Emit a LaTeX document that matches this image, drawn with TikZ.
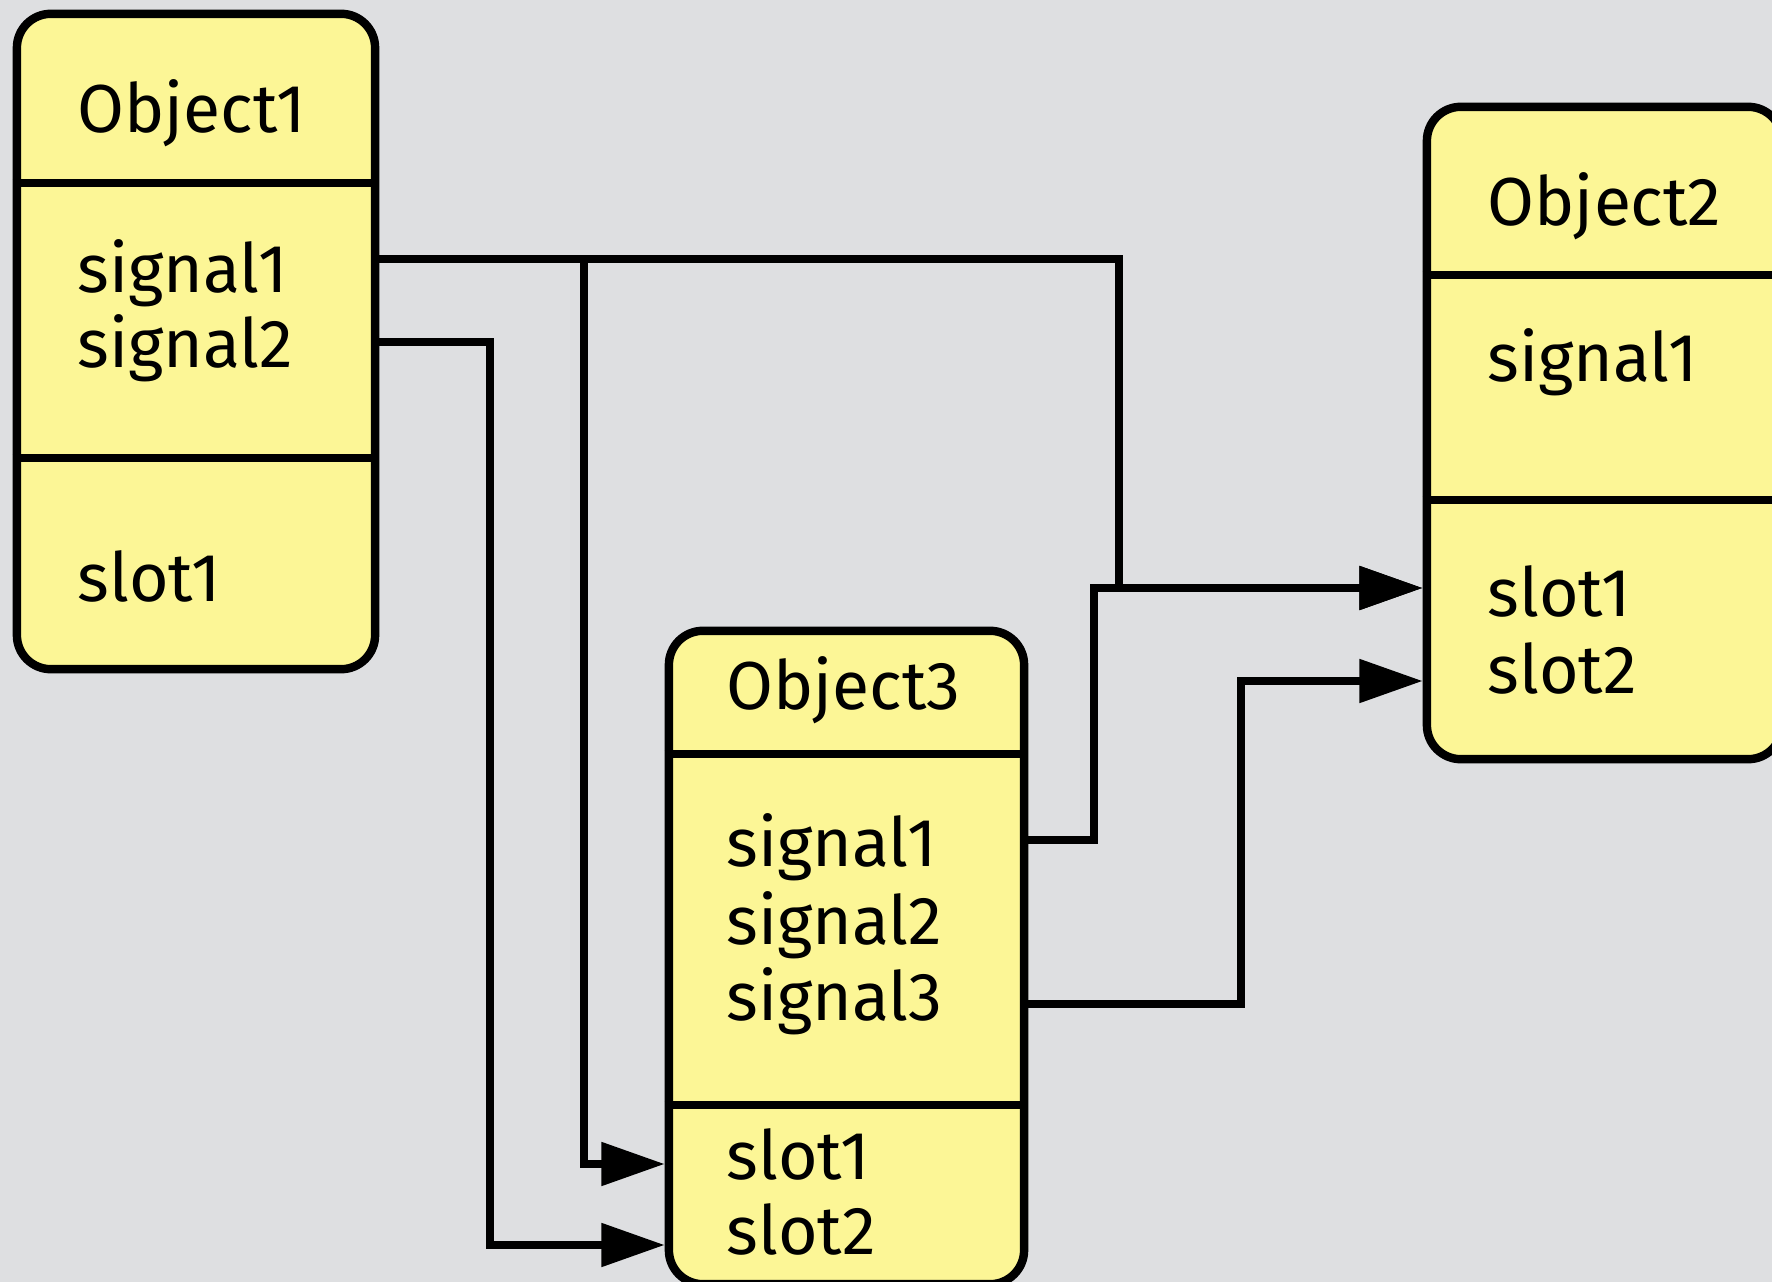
\documentclass[tikz,border=0pt]{standalone}
\usepackage{fontspec}
\setmainfont{Fira Sans}
\usetikzlibrary{arrows.meta}
\definecolor{bgcol}{RGB}{222,223,225}
\definecolor{boxfill}{RGB}{252,246,150}
\tikzset{
  objbox/.style={draw=black, fill=boxfill, line width=2.4pt, rounded corners=0.34cm, rectangle, inner sep=0pt},
  divider/.style={draw=black, line width=2.4pt},
  lbl/.style={anchor=base west, inner sep=0pt, font=\fontsize{19.3}{21.3}\selectfont},
  conn/.style={draw=black, line width=2.2pt, -{Triangle[length=18pt,width=12pt]}}
}
\begin{document}
\begin{tikzpicture}[x=0.01cm,y=-0.01cm]
\useasboundingbox (0,0) rectangle (1772,1282);
\fill[bgcol] (0,0) rectangle (1772,1282);
\clip (0,0) rectangle (1772,1282);

% boxes
\node[objbox, minimum width=3.58cm, minimum height=6.55cm] (o1) at (196,341.5) {};
\node[objbox, minimum width=3.55cm, minimum height=6.52cm] (o2) at (1604.5,433) {};
\node[objbox, minimum width=3.55cm, minimum height=6.53cm] (o3) at (846.5,957.5) {};

% dividers
\draw[divider] (o1.west |- 0,183) -- (o1.east |- 0,183);
\draw[divider] (o1.west |- 0,458) -- (o1.east |- 0,458);
\draw[divider] (o2.west |- 0,275) -- (o2.east |- 0,275);
\draw[divider] (o2.west |- 0,500) -- (o2.east |- 0,500);
\draw[divider] (o3.west |- 0,754) -- (o3.east |- 0,754);
\draw[divider] (o3.west |- 0,1105) -- (o3.east |- 0,1105);

% texts
\node[lbl] (o1name) at (77,133) {Object1};
\node[lbl] (o1sig1) at (77,292) {signal1};
\node[lbl] (o1sig2) at (77,367) {signal2};
\node[lbl] (o1slot1) at (77,601) {slot1};

\node[lbl] (o2name) at (1487,226) {Object2};
\node[lbl] (o2sig1) at (1487,382) {signal1};
\node[lbl] (o2slot1) at (1487,616) {slot1};
\node[lbl] (o2slot2) at (1487,693) {slot2};

\node[lbl] (o3name) at (726,709) {Object3};
\node[lbl] (o3sig1) at (726,866) {signal1};
\node[lbl] (o3sig2) at (726,944) {signal2};
\node[lbl] (o3sig3) at (726,1020) {signal3};
\node[lbl] (o3slot1) at (726,1179) {slot1};
\node[lbl] (o3slot2) at (726,1254) {slot2};

% connector end points
\coordinate (p1s1) at (o1.east |- 0,259);
\coordinate (p1s2) at (o1.east |- 0,342);
\coordinate (p3s1) at (o3.east |- 0,840);
\coordinate (p3s3) at (o3.east |- 0,1004);
\coordinate (q2sl1) at (o2.west |- 0,588);
\coordinate (q2sl2) at (o2.west |- 0,681);
\coordinate (q3sl1) at (o3.west |- 0,1164);
\coordinate (q3sl2) at (o3.west |- 0,1245);
\coordinate (b1) at (1119,259);
\coordinate (b2) at (584,259);
\coordinate (b3) at (490,342);
\coordinate (b4) at (1094,840);
\coordinate (b5) at (1241,1004);

% connectors
\draw[conn] (p1s1) -- (b1) |- (q2sl1);
\draw[conn] (b2) |- (q3sl1);
\draw[conn] (p1s2) -- (b3) |- (q3sl2);
\draw[conn] (p3s1) -- (b4) |- (q2sl1);
\draw[conn] (p3s3) -- (b5) |- (q2sl2);
\end{tikzpicture}
\end{document}
